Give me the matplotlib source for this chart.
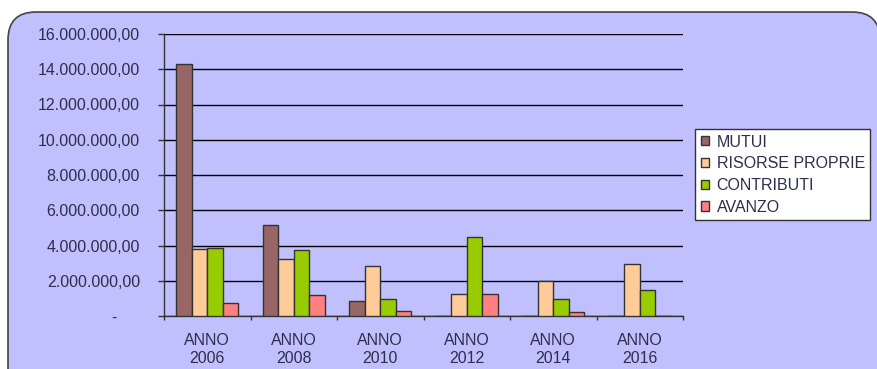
import matplotlib
matplotlib.use("Agg")
import matplotlib.pyplot as plt
from matplotlib.patches import FancyBboxPatch
import numpy as np

plt.rcParams['font.family'] = ['Liberation Sans', 'DejaVu Sans']

categories = ["ANNO\n2006", "ANNO\n2008", "ANNO\n2010", "ANNO\n2012", "ANNO\n2014", "ANNO\n2016"]
series_names = ["MUTUI", "RISORSE PROPRIE", "CONTRIBUTI", "AVANZO"]
mutui = [14300000, 5170000, 830000, 0, 0, 0]
risorse = [3790000, 3240000, 2820000, 1250000, 1990000, 2930000]
contributi = [3850000, 3730000, 960000, 4500000, 950000, 1500000]
avanzo = [720000, 1190000, 300000, 1270000, 230000, 0]
yticks = [0, 2000000, 4000000, 6000000, 8000000, 10000000, 12000000, 14000000, 16000000]
ytick_labels = ["-     ", "2.000.000,00", "4.000.000,00", "6.000.000,00", "8.000.000,00",
                "10.000.000,00", "12.000.000,00", "14.000.000,00", "16.000.000,00"]

colors = ["#996666", "#FFCC99", "#99CC00", "#FF8080"]
text_color = "#2e2e4c"
fs = 11.5

W, H = 877, 369
fig = plt.figure(figsize=(W / 100, H / 100), dpi=100, facecolor="white")

# rounded lavender background
bg = FancyBboxPatch((0.08, -0.3), 8.72, 3.87,
                    boxstyle="round,pad=0,rounding_size=0.28",
                    transform=fig.dpi_scale_trans, facecolor="#C0C0FF",
                    edgecolor="#444444", linewidth=1.2, zorder=-1)
fig.patches.append(bg)

ax = fig.add_axes([164 / W, 1 - 316 / H, (683 - 164) / W, (316 - 34) / H])
ax.set_facecolor("none")

x = np.arange(len(categories))
bw = 0.18
data = [mutui, risorse, contributi, avanzo]
for i, (vals, name, c) in enumerate(zip(data, series_names, colors)):
    ax.bar(x + (i - 1.5) * bw, vals, bw, color=c, edgecolor="#333333",
           linewidth=1.0, label=name, zorder=3)

ax.set_xlim(-0.5, len(categories) - 0.5)
ax.set_ylim(0, 16000000)
ax.set_yticks(yticks)
ax.set_yticklabels(ytick_labels)
ax.yaxis.grid(True, color="black", linewidth=1.0, zorder=1)
ax.set_axisbelow(True)

ax.set_xticks(x)
ax.set_xticklabels(categories, linespacing=1.25)
ax.set_xticks(np.arange(len(categories) + 1) - 0.5, minor=True)
ax.tick_params(axis="x", which="major", length=0, pad=12, labelsize=fs, labelcolor=text_color)
ax.tick_params(axis="x", which="minor", length=3, width=1.0, color="#333333", direction="out")
ax.tick_params(axis="y", length=4.3, width=1.0, color="#333333", labelsize=fs,
               labelcolor=text_color, pad=13)

for s in ["top", "right"]:
    ax.spines[s].set_visible(False)
for s in ["left", "bottom"]:
    ax.spines[s].set_color("#333333")
    ax.spines[s].set_linewidth(1.0)

leg = fig.legend(loc="upper left", bbox_to_anchor=(695 / W, 1 - 129 / H),
                 frameon=True, fancybox=False, fontsize=fs, handlelength=0.55,
                 handleheight=0.5, handletextpad=0.45, labelspacing=0.42,
                 borderpad=0.35, borderaxespad=0, framealpha=1.0)
leg.get_frame().set_edgecolor("#333333")
leg.get_frame().set_linewidth(1.0)
leg.get_frame().set_facecolor("white")
for t in leg.get_texts():
    t.set_color(text_color)

fig.savefig("out.png", dpi=100, facecolor="white")
